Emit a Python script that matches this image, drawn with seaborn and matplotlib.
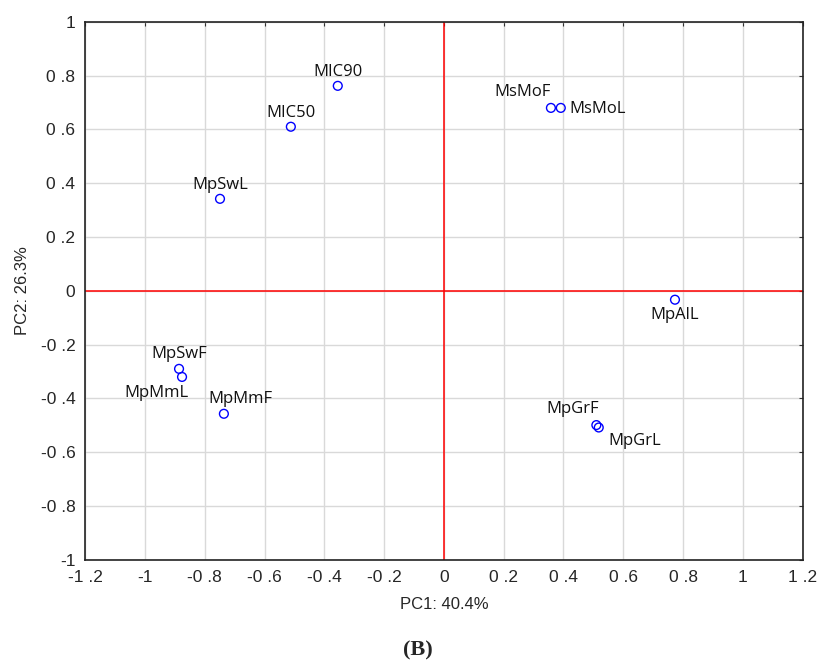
import numpy as np
import pandas as pd
import matplotlib
matplotlib.use("Agg")
import matplotlib.pyplot as plt
import seaborn as sns

# PCA loadings
names = ["MIC90", "MIC50", "MpSwL", "MsMoF", "MsMoL", "MpAlL",
         "MpSwF", "MpMmL", "MpMmF", "MpGrF", "MpGrL"]
pc1 = [-0.355, -0.512, -0.749, 0.358, 0.391, 0.773,
       -0.886, -0.876, -0.736, 0.510, 0.518]
pc2 = [0.762, 0.610, 0.342, 0.680, 0.680, -0.033,
       -0.290, -0.320, -0.457, -0.499, -0.508]

# label offsets (points) and alignment
offsets = {
    "MIC90": (0, 4, "center", "bottom"),
    "MIC50": (0, 4, "center", "bottom"),
    "MpSwL": (0, 4, "center", "bottom"),
    "MsMoF": (0, 6, "right", "bottom"),
    "MsMoL": (6, -1, "left", "center"),
    "MpAlL": (0, -5, "center", "top"),
    "MpSwF": (0, 5, "center", "bottom"),
    "MpMmL": (5, -6, "right", "top"),
    "MpMmF": (12, 5, "center", "bottom"),
    "MpGrF": (2, 6, "right", "bottom"),
    "MpGrL": (7, -4, "left", "top"),
}

df = pd.DataFrame({"name": names, "PC1": pc1, "PC2": pc2})

sns.set_style("white")
plt.rcParams["font.family"] = ["Liberation Sans", "DejaVu Sans"]

fig = plt.figure(figsize=(8.19, 6.61), dpi=100)
ax = fig.add_axes([0.104, 0.153, 0.876, 0.814])

ax.axhline(0, color="red", lw=1.1, zorder=2)
ax.axvline(0, color="red", lw=1.1, zorder=2)

sns.scatterplot(data=df, x="PC1", y="PC2", ax=ax, marker="o", s=40,
                facecolor="none", edgecolor="blue", linewidth=1.0, zorder=3)

for n, x, y in zip(names, pc1, pc2):
    dx, dy, ha, va = offsets[n]
    ax.annotate(n, (x, y), xytext=(dx, dy), textcoords="offset points",
                ha=ha, va=va, fontsize=12, family="Open Sans", color="#111111")

xt = np.round(np.arange(-1.2, 1.21, 0.2), 1)
yt = np.round(np.arange(-1.0, 1.01, 0.2), 1)

def fmt(v):
    if abs(v - round(v)) < 1e-9:
        return str(int(round(v)))
    s = f"{v:.1f}"
    return s.replace(".", " .")

ax.set_xlim(-1.2, 1.2)
ax.set_ylim(-1, 1)
ax.set_xticks(xt)
ax.set_xticklabels([fmt(v) for v in xt])
ax.set_yticks(yt)
ax.set_yticklabels([fmt(v) for v in yt])
ax.grid(True, color="#d9d9d9", lw=1.0, zorder=0)
ax.set_axisbelow(True)
ax.tick_params(axis="both", labelsize=12.5, direction="in", length=3,
               top=True, right=True, color="#333333", pad=7)
for sp in ax.spines.values():
    sp.set_color("#222222")
    sp.set_linewidth(1.2)

ax.set_xlabel("PC1: 40.4%", fontsize=12, labelpad=9)
ax.set_ylabel("PC2: 26.3%", fontsize=12, labelpad=8)

fig.text(0.51, 0.016, "(B)", ha="center", va="center", fontsize=16,
         fontweight="bold", family="Liberation Serif")

fig.savefig("out.png", dpi=100)
